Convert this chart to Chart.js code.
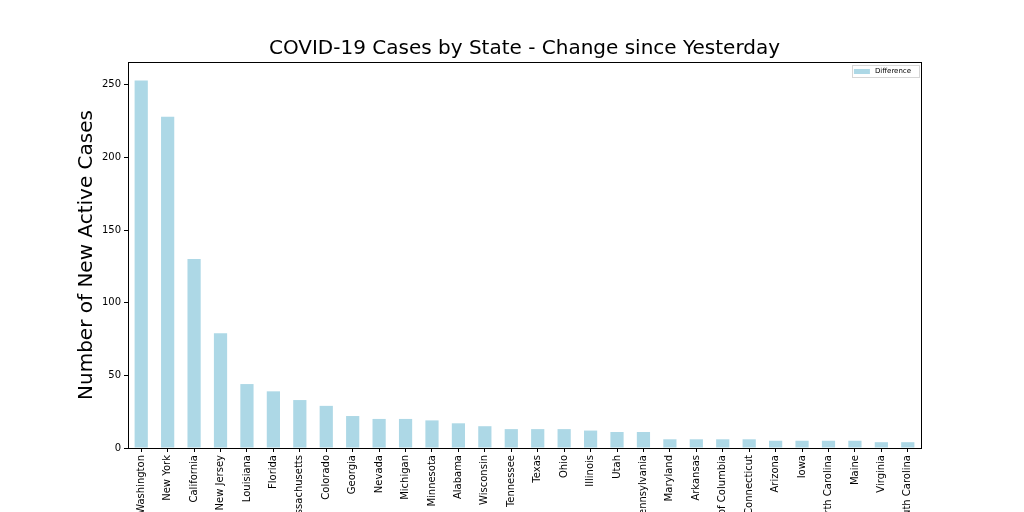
<!DOCTYPE html>
<html>
<head>
<meta charset="utf-8">
<script src="https://cdn.jsdelivr.net/npm/chart.js@4/dist/chart.umd.min.js"></script>
<style>
  html, body { margin: 0; padding: 0; background: #fff; }
  #wrap { width: 1024px; height: 512px; position: relative; }
</style>
</head>
<body>
<div id="wrap"><canvas id="c" width="1024" height="512"></canvas></div>
<script>
const states = ["Washington", "New York", "California", "New Jersey", "Louisiana", "Florida",
  "Massachusetts", "Colorado", "Georgia", "Nevada", "Michigan", "Minnesota", "Alabama",
  "Wisconsin", "Tennessee", "Texas", "Ohio", "Illinois", "Utah", "Pennsylvania", "Maryland",
  "Arkansas", "District of Columbia", "Connecticut", "Arizona", "Iowa", "North Carolina",
  "Maine", "Virginia", "South Carolina"];
const difference = [253, 228, 130, 79, 44, 39, 33, 29, 22, 20, 20, 19, 17, 15, 13, 13, 13,
  12, 11, 11, 6, 6, 6, 6, 5, 5, 5, 5, 4, 4];
const yTicks = [0, 50, 100, 150, 200, 250];
const seriesName = "Difference";
const titleText = "COVID-19 Cases by State - Change since Yesterday";
const yAxisTitle = "Number of New Active Cases";

const FONT = "'DejaVu Sans', sans-serif";
const BAR = "#ADD8E6";
const PAD_LEFT = 75;

const framePlugin = {
  id: 'frame',
  afterDatasetsDraw(chart) {
    const {ctx, chartArea: a} = chart;
    ctx.save();
    ctx.strokeStyle = '#000';
    ctx.lineWidth = 1;
    ctx.strokeRect(Math.round(a.left) + 0.5, Math.round(a.top) + 0.5,
      Math.round(a.right - a.left), Math.round(a.bottom - a.top));
    ctx.restore();
  },
  afterDraw(chart) {
    const {ctx, chartArea: a} = chart;
    const ds = chart.data.datasets[0];
    ctx.save();
    ctx.font = "7px " + FONT;
    const tw = ctx.measureText(ds.label).width;
    const boxRight = a.right - 2;
    const boxTop = a.top + 3;
    const boxW = 6 + 16 + 5 + tw + 4;
    const boxH = 12;
    const boxLeft = boxRight - boxW;
    ctx.fillStyle = 'rgba(255,255,255,0.8)';
    ctx.fillRect(boxLeft, boxTop, boxW, boxH);
    ctx.strokeStyle = '#d6d6d6';
    ctx.lineWidth = 1;
    ctx.strokeRect(Math.round(boxLeft) + 0.5, boxTop + 0.5, Math.round(boxW), boxH);
    ctx.fillStyle = ds.backgroundColor;
    ctx.fillRect(boxLeft + 2, boxTop + 4, 16, 5);
    ctx.fillStyle = '#000';
    ctx.textBaseline = 'middle';
    ctx.fillText(ds.label, boxLeft + 2 + 16 + 5, boxTop + boxH / 2 + 0.5);
    ctx.restore();
  }
};

new Chart(document.getElementById('c'), {
  type: 'bar',
  data: {
    labels: states,
    datasets: [{
      label: seriesName,
      data: difference,
      backgroundColor: BAR,
      borderWidth: 0,
      barPercentage: 0.5,
      categoryPercentage: 1.0
    }]
  },
  options: {
    responsive: false,
    animation: false,
    devicePixelRatio: 1,
    layout: { padding: { left: PAD_LEFT, right: 103, top: 0, bottom: 0 } },
    plugins: {
      legend: { display: false },
      tooltip: { enabled: false },
      title: {
        display: true,
        fullSize: false,
        text: titleText,
        color: '#000',
        font: { family: FONT, size: 20, weight: 'normal' },
        padding: { top: 37, bottom: 1 }
      }
    },
    scales: {
      x: {
        offset: true,
        grid: { display: true, drawOnChartArea: false, drawTicks: true, tickLength: 4, offset: false, color: '#000' },
        border: { display: false },
        ticks: {
          autoSkip: false, maxRotation: 90, minRotation: 90, padding: 3,
          color: '#000', font: { family: FONT, size: 10 }
        },
        afterFit(scale) { scale.height = 64; }
      },
      y: {
        min: 0,
        max: 265.65,
        grid: { display: true, drawOnChartArea: false, drawTicks: true, tickLength: 4, color: '#000' },
        border: { display: false },
        afterBuildTicks(axis) { axis.ticks = yTicks.map(v => ({ value: v })); },
        ticks: { padding: 3, color: '#000', font: { family: FONT, size: 10 } },
        title: {
          display: true, text: yAxisTitle, color: '#000',
          font: { family: FONT, size: 20, weight: 'normal' },
          padding: { top: 0, bottom: 0 }
        },
        afterFit(scale) { scale.width = 128 - PAD_LEFT; }
      }
    }
  },
  plugins: [framePlugin]
});
</script>
</body>
</html>
